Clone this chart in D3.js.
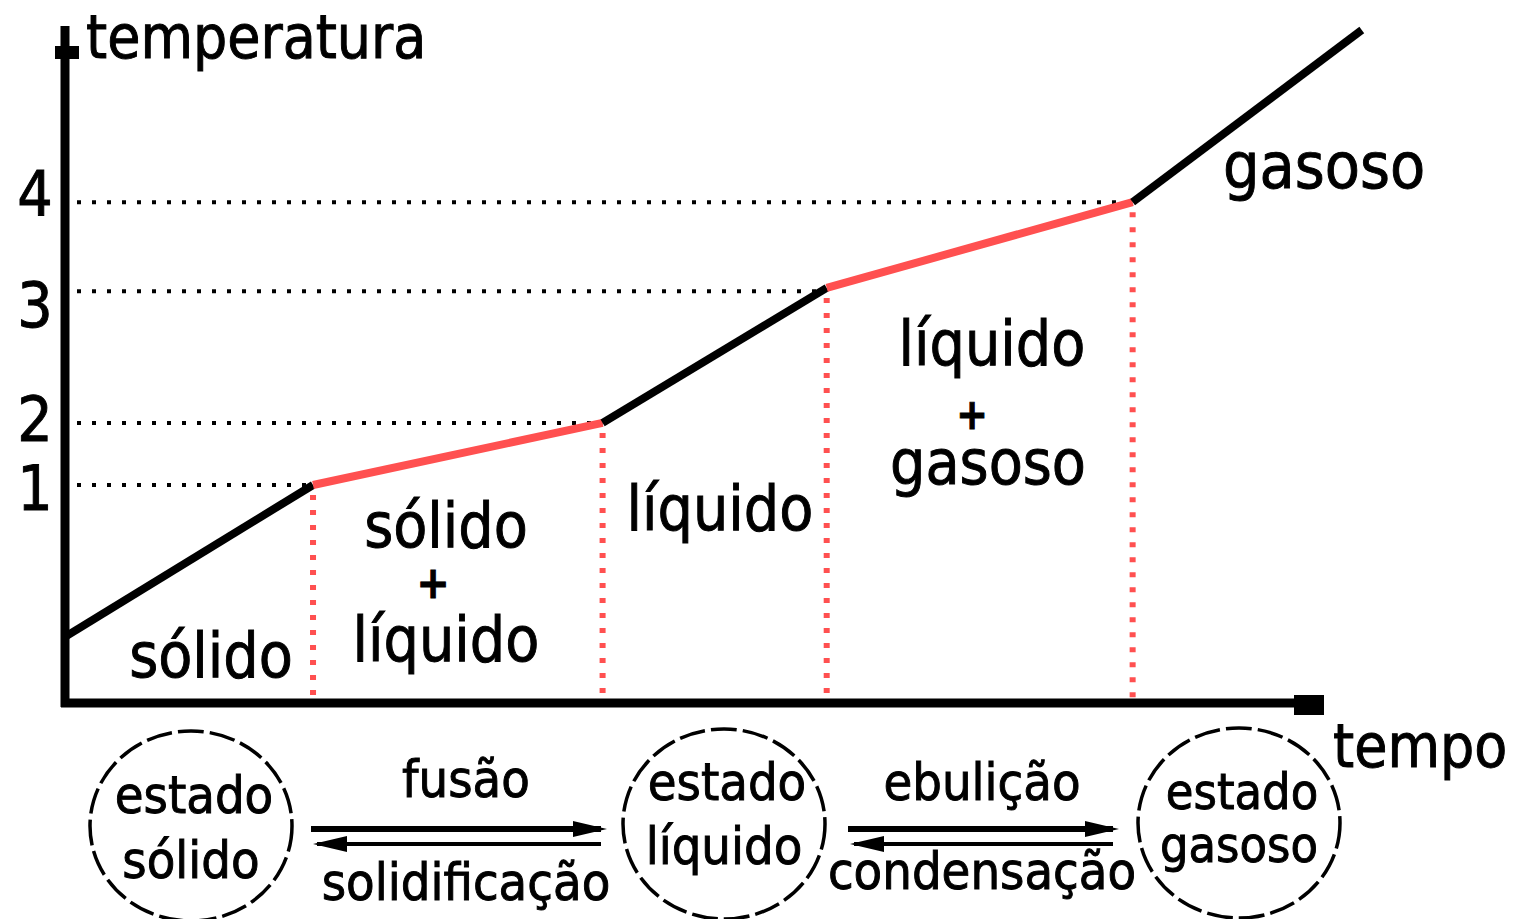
<!DOCTYPE html>
<html>
<head>
<meta charset="utf-8">
<script src="https://cdn.jsdelivr.net/npm/d3@7"></script>
<style>
  body { margin: 0; background: #fff; }
  svg text { font-family: "DejaVu Sans Condensed", "DejaVu Sans", sans-serif; font-stretch: condensed; fill: #000; stroke: #000; stroke-width: 0.9px; }
</style>
</head>
<body>
<div id="chart"></div>
<script>
// curve points (time, temperature) in arbitrary units
var tempo = [0, 1.97, 4.27, 6.05, 8.48, 10.3];
var temperatura = [0.98, 3.23, 4.15, 6.15, 7.42, 9.97];
// segment type: 0 = single phase (black), 1 = phase change (red)
var segmentType = [0, 1, 0, 1, 0];
// temperature levels marked on the y axis
var levelValues = [3.23, 4.15, 6.1, 7.42];
var levelLabels = ["1", "2", "3", "4"];
var levelDy = [25, 18, 36, 14];

var width = 1513;
var height = 919;

var svg = d3.select("#chart")
  .append("svg")
  .attr("width", width)
  .attr("height", height);

var x = d3.scaleLinear().domain([0, 10]).range([65, 1324]);
var y = d3.scaleLinear().domain([0, 10]).range([703, 28]);

var red = "#ff5050";

// horizontal dotted lines to each level
svg.selectAll(".hdot")
  .data(levelValues)
  .enter().append("line")
  .attr("x1", x(0) + 12)
  .attr("x2", function(d, i) { return x(tempo[i + 1]); })
  .attr("y1", function(d) { return y(d); })
  .attr("y2", function(d) { return y(d); })
  .attr("stroke", "#000")
  .attr("stroke-width", 4)
  .attr("stroke-dasharray", "4,11");

// red vertical dotted lines at phase boundaries
svg.selectAll(".vdot")
  .data(tempo.slice(1, 5))
  .enter().append("line")
  .attr("x1", function(d) { return x(d); })
  .attr("x2", function(d) { return x(d); })
  .attr("y1", function(d, i) { return y(temperatura[i + 1]) + 10; })
  .attr("y2", y(0) - 4)
  .attr("stroke", red)
  .attr("stroke-width", 6)
  .attr("stroke-dasharray", "5,10");

// heating curve segments
var segs = d3.range(segmentType.length).map(function(i) {
  return [[tempo[i], temperatura[i]], [tempo[i + 1], temperatura[i + 1]]];
});
svg.selectAll(".seg")
  .data(segs)
  .enter().append("path")
  .attr("d", d3.line().x(function(d) { return x(d[0]); }).y(function(d) { return y(d[1]); }))
  .attr("fill", "none")
  .attr("stroke", function(d, i) { return segmentType[i] ? red : "#000"; })
  .attr("stroke-width", 8);

// axes
svg.append("line")
  .attr("x1", x(0)).attr("x2", x(0))
  .attr("y1", y(0) + 4).attr("y2", y(10) - 2)
  .attr("stroke", "#000").attr("stroke-width", 9);
svg.append("rect")
  .attr("x", x(0) - 10).attr("y", 46).attr("width", 24).attr("height", 13)
  .attr("fill", "#000");
svg.append("line")
  .attr("x1", x(0) - 4).attr("x2", x(10))
  .attr("y1", y(0)).attr("y2", y(0))
  .attr("stroke", "#000").attr("stroke-width", 9);
svg.append("rect")
  .attr("x", x(10) - 30).attr("y", y(0) - 8).attr("width", 30).attr("height", 20)
  .attr("fill", "#000");

// level labels
svg.selectAll(".lvl")
  .data(levelLabels)
  .enter().append("text")
  .attr("x", 35)
  .attr("y", function(d, i) { return y(levelValues[i]) + levelDy[i]; })
  .attr("text-anchor", "middle")
  .style("font-size", "62px")
  .text(function(d) { return d; });

function label(txt, cx, by, size, anchor, bold) {
  svg.append("text")
    .attr("x", cx).attr("y", by)
    .attr("text-anchor", anchor || "middle")
    .style("font-size", size + "px")
    .style("font-weight", bold ? "bold" : "normal")
    .text(txt);
}

label("temperatura", 86, 58, 60, "start");
label("tempo", 1333, 767, 60, "start");
label("gasoso", 1223, 188, 64, "start");
label("sólido", 211, 677, 62);
label("sólido", 446, 547, 62);
label("+", 433, 598, 44, "middle", true);
label("líquido", 446, 661, 62);
label("líquido", 720, 530, 62);
label("líquido", 992, 365, 62);
label("+", 972, 429, 42, "middle", true);
label("gasoso", 988, 484, 62);

// bottom: states and transitions
var states = [
  { cx: 191, cy: 826, top: "estado", bottom: "sólido", b1: 813, b2: 878, fs: 52 },
  { cx: 724, cy: 824, top: "estado", bottom: "líquido", b1: 800, b2: 864, fs: 52 },
  { cx: 1239, cy: 823, top: "estado", bottom: "gasoso", b1: 809, b2: 862, fs: 50 }
];
states.forEach(function(s) {
  svg.append("ellipse")
    .attr("cx", s.cx).attr("cy", s.cy)
    .attr("rx", 101).attr("ry", 95)
    .attr("fill", "none")
    .attr("stroke", "#000")
    .attr("stroke-width", 3.5)
    .attr("stroke-dasharray", "26,6");
  label(s.top, s.cx + 3, s.b1, s.fs);
  label(s.bottom, s.cx, s.b2, s.fs);
});

var transitions = [
  { x1: 311, x2: 607, up: "fusão", down: "solidificação", tx: 466, ty1: 797, ty2: 900 },
  { x1: 848, x2: 1119, up: "ebulição", down: "condensação", tx: 982, ty1: 800, ty2: 889 }
];
transitions.forEach(function(t) {
  svg.append("line")
    .attr("x1", t.x1).attr("x2", t.x2 - 6)
    .attr("y1", 829).attr("y2", 829)
    .attr("stroke", "#000").attr("stroke-width", 6);
  svg.append("path")
    .attr("d", "M" + t.x2 + ",829 L" + (t.x2 - 34) + ",821 L" + (t.x2 - 34) + ",837 Z")
    .attr("fill", "#000");
  svg.append("line")
    .attr("x1", t.x1 + 6).attr("x2", t.x2 - 6)
    .attr("y1", 844).attr("y2", 844)
    .attr("stroke", "#000").attr("stroke-width", 4);
  svg.append("path")
    .attr("d", "M" + (t.x1 + 2) + ",844 L" + (t.x1 + 36) + ",836 L" + (t.x1 + 36) + ",852 Z")
    .attr("fill", "#000");
  label(t.up, t.tx, t.ty1, 52);
  label(t.down, t.tx, t.ty2, 52);
});
</script>
</body>
</html>
